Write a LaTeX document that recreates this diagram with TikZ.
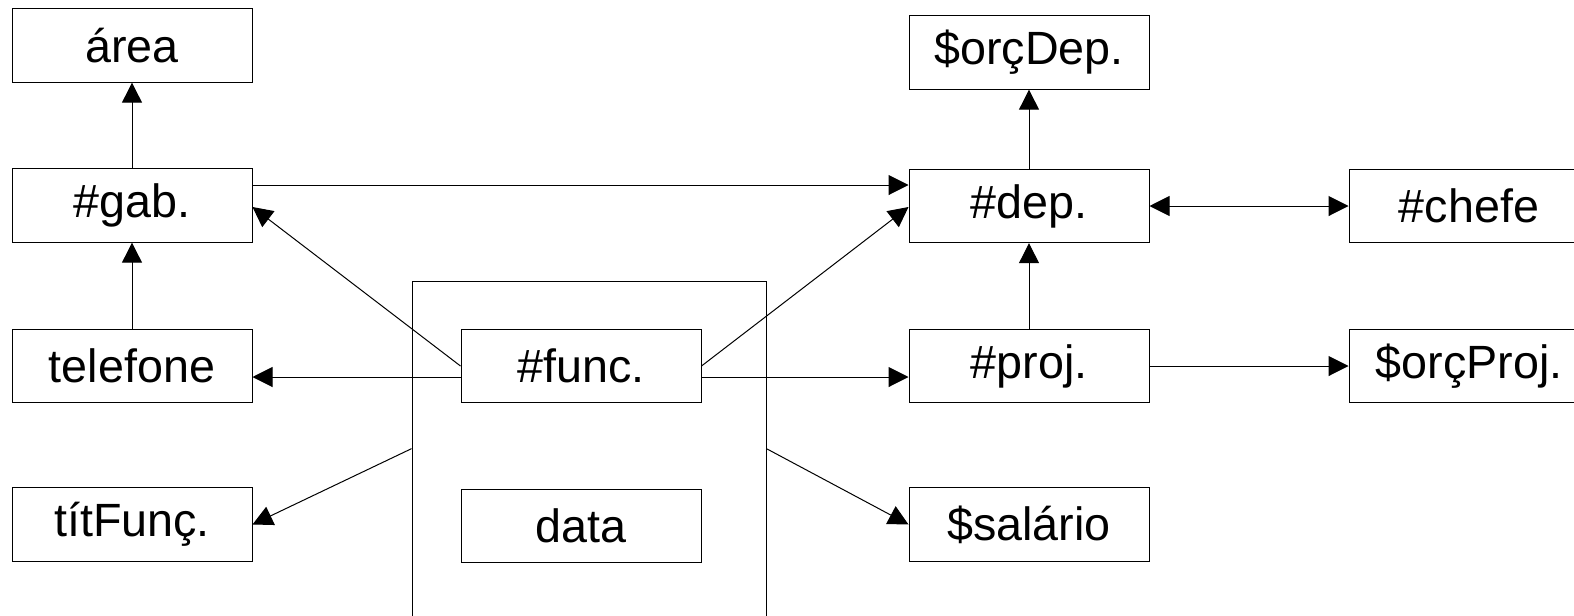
\documentclass[tikz,border=0pt]{standalone}
\usepackage{fontspec}
\setmainfont{Liberation Sans}
\usetikzlibrary{arrows.meta,calc}
\tikzset{
  attr/.style={draw, line width=0.75pt, rectangle, inner sep=0pt,
    minimum width=180pt, minimum height=55pt,
    font=\fontsize{35}{42}\selectfont},
  grp/.style={draw, line width=0.75pt, rectangle, inner sep=0pt,
    minimum width=265.5pt, minimum height=314pt},
  dep/.style={line width=0.75pt, -{Triangle[length=15pt,width=15pt]}},
  bidep/.style={line width=0.75pt, {Triangle[length=15pt,width=15pt]}-{Triangle[length=15pt,width=15pt]}}
}
\begin{document}
\begin{tikzpicture}[x=0.75pt,y=-0.75pt]
  \clip (0,0) rectangle (1574,615);
  \fill[white] (0,0) rectangle (1574,615);

  % grouping box around the composite key
  \node[grp] (grp) at (589,490.5) {};

  % left column
  \node[attr] (area) at (132,45.5) {área};
  \node[attr] (gab)  at (132,205.5) {\#gab.};
  \node[attr] (tel)  at (132,366) {telefone};
  \node[attr] (tit)  at (132,524.5) {títFunç.};

  % middle column
  \node[attr] (func) at (581,366) {\#func.};
  \node[attr] (data) at (581,526) {data};

  % right column
  \node[attr] (orcdep) at (1029,52.5) {\$orçDep.};
  \node[attr] (dep)    at (1029,206) {\#dep.};
  \node[attr] (proj)   at (1029,366) {\#proj.};
  \node[attr] (sal)    at (1029,524.5) {\$salário};

  % far right column
  \node[attr] (chefe)   at (1469,206) {\#chefe};
  \node[attr] (orcproj) at (1469,366) {\$orçProj.};

  % dependencies
  \draw[dep] (gab.north) -- (area.south);
  \draw[dep] (tel.north) -- (gab.south);
  \draw[dep] ($(gab.east)+(0,-20.5)$) -- ($(dep.west)+(0,-21)$);
  \draw[dep] (func.west) -- ($(gab.east)+(0,1.5)$);
  \draw[dep] ($(func.west)+(0,11)$) -- ($(tel.east)+(0,11)$);
  \draw[dep] ($(grp.north west)+(0,168)$) -- (tit.east);
  \draw[dep] (func.east) -- ($(dep.west)+(0,1)$);
  \draw[dep] ($(func.east)+(0,11)$) -- ($(proj.west)+(0,11)$);
  \draw[dep] ($(grp.north east)+(0,168)$) -- (sal.west);
  \draw[dep] (proj.north) -- (dep.south);
  \draw[dep] (dep.north) -- (orcdep.south);
  \draw[bidep] (dep.east) -- (chefe.west);
  \draw[dep] (proj.east) -- (orcproj.west);
\end{tikzpicture}
\end{document}
